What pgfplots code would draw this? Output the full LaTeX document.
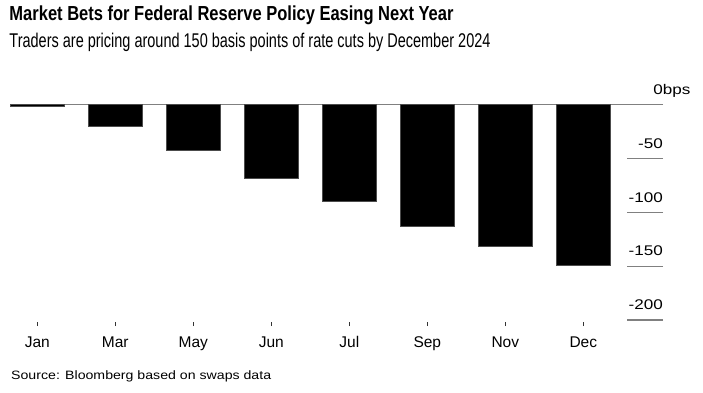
\documentclass[border=0pt]{standalone}
\usepackage{pgfplots}
\pgfplotsset{compat=1.18}
\usepackage{fontspec}
\usepackage{graphicx}
\setmainfont{Liberation Sans}
\newfontfamily\stretchfont{Liberation Sans}[FakeStretch=1.22]
\pgfplotsset{
  frame/.style={
    at={(10bp,-326bp)}, anchor=south west,
    scale only axis, width=653bp, height=221.5bp,
    xmin=-0.35, xmax=8.022, ymin=-205.6, ymax=0,
    clip=false,
    axis x line*=bottom, axis y line*=right,
    x axis line style={draw=none}, y axis line style={draw=none},
    tick align=inside, minor tick num=0,
  }
}
\begin{document}
\begin{tikzpicture}[x=1bp,y=1bp]
\useasboundingbox (0,0) rectangle (703,-392);
\node[anchor=base west, inner sep=0pt] at (9.3,-20.7) {\resizebox{444bp}{14.7bp}{\bfseries Market Bets for Federal Reserve Policy Easing Next Year}};
\node[anchor=base west, inner sep=0pt] at (9.3,-47.7) {\resizebox{481bp}{14.4bp}{Traders are pricing around 150 basis points of rate cuts by December 2024}};
\node[anchor=base west, inner sep=0pt] at (11,-379.3) {\resizebox{260bp}{8.8bp}{Source: Bloomberg based on swaps data}};
% y ticks, zero line and bars
\begin{axis}[
  frame,
  major tick length=36bp,
  xtick=\empty,
  ytick={-200,-150,-100,-50},
  yticklabels={-200,-150,-100,-50},
  ytick style={draw=black!50, line width=1.2bp},
  yticklabel style={font=\stretchfont\fontsize{14bp}{16bp}\selectfont, anchor=base east, inner sep=0pt, yshift=10.2bp},
  extra y ticks={0},
  extra y tick labels={0\rlap{bps}},
  extra y tick style={ymajorgrids=true, major grid style={draw=black!50, line width=1bp}},
]
\addplot[ybar, bar width=54bp, fill=black, draw=black!70, line width=0.5bp]
  coordinates {(0,-1.4) (1,-20.0) (2,-42.9) (3,-68.5) (4,-90.0) (5,-113.0) (6,-131.6) (7,-149.0)};
\end{axis}
% x ticks and labels
\begin{axis}[
  frame,
  major tick length=4bp,
  ytick=\empty,
  xtick={0,1,2,3,4,5,6,7},
  xticklabels={Jan,Mar,May,Jun,Jul,Sep,Nov,Dec},
  xtick style={draw=black!80, line width=1bp},
  xticklabel style={font=\fontsize{15.5bp}{18bp}\selectfont, anchor=base, inner sep=0pt, yshift=-21.7bp},
]
\end{axis}
\end{tikzpicture}
\end{document}
